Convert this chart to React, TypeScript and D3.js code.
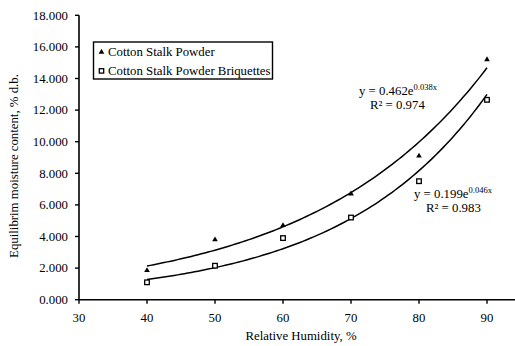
import React from "react";
import * as d3 from "d3";

const humidity = [40, 50, 60, 70, 80, 90];
const powder = [1.85, 3.8, 4.7, 6.7, 9.1, 15.2];
const briquettes = [1.1, 2.15, 3.9, 5.2, 7.5, 12.65];
const xTicks = [30, 40, 50, 60, 70, 80, 90];
const yTicks = [0, 2, 4, 6, 8, 10, 12, 14, 16, 18];
const seriesNames = ["Cotton Stalk Powder", "Cotton Stalk Powder Briquettes"];

const width = 515;
const height = 346;
const font = "'Liberation Serif', 'Times New Roman', serif";

// exponential trendline fitted on ln(y), same as a spreadsheet would
const expFit = (xs: number[], ys: number[]) => {
  const ly = ys.map((v) => Math.log(v));
  const mx = d3.mean(xs) as number;
  const my = d3.mean(ly) as number;
  const b =
    d3.sum(xs, (x, i) => (x - mx) * (ly[i] - my)) /
    d3.sum(xs, (x) => (x - mx) * (x - mx));
  const a = Math.exp(my - b * mx);
  return (x: number) => a * Math.exp(b * x);
};

const App = () => {
  const x = d3.scaleLinear().domain([30, 100]).range([79, 555]);
  const y = d3.scaleLinear().domain([0, 18]).range([299.7, 15.3]);

  const curve = (f: (x: number) => number) => {
    const pts = d3.range(40, 90.01, 0.5).map((h) => [x(h), y(f(h))] as [number, number]);
    return d3.line()(pts) || "";
  };
  const fitA = expFit(humidity, powder);
  const fitB = expFit(humidity, briquettes);
  const tri = d3.symbol().type(d3.symbolTriangle).size(14)() || "";

  return (
    <svg width={width} height={height} style={{ position: "absolute", left: 0, top: 0, background: "#fff" }} fontFamily={font}>
      <rect width={width} height={height} fill="#fff" />
      {/* axes */}
      <line x1={79} x2={79} y1={y(18)} y2={y(0)} stroke="#000" strokeWidth={1.6} />
      <line x1={79} x2={width} y1={y(0)} y2={y(0)} stroke="#000" strokeWidth={1.6} />
      {yTicks.map((t) => (
        <g key={"y" + t}>
          <line x1={75} x2={79} y1={y(t)} y2={y(t)} stroke="#000" strokeWidth={1.4} />
          <text x={68} y={y(t) + 4.3} textAnchor="end" fontSize={12.8} fill="#000">
            {d3.format(".3f")(t)}
          </text>
        </g>
      ))}
      {xTicks.map((t) => (
        <g key={"x" + t}>
          <line x1={x(t)} x2={x(t)} y1={y(0)} y2={y(0) + 4} stroke="#000" strokeWidth={1.4} />
          <text x={x(t)} y={322} textAnchor="middle" fontSize={12.8} fill="#000">
            {t}
          </text>
        </g>
      ))}
      <text x={301} y={340} textAnchor="middle" fontSize={12.8}>
        Relative Humidity, %
      </text>
      <text transform="translate(18,166) rotate(-90)" textAnchor="middle" fontSize={12.8}>
        Equilibrim moisture content, % d.b.
      </text>

      {/* trendlines */}
      <path d={curve(fitA)} fill="none" stroke="#000" strokeWidth={1.5} />
      <path d={curve(fitB)} fill="none" stroke="#000" strokeWidth={1.5} />

      {/* markers */}
      {humidity.map((h, i) => (
        <path key={"t" + i} d={tri} transform={`translate(${x(h)},${y(powder[i])})`} fill="#000" />
      ))}
      {humidity.map((h, i) => (
        <rect key={"s" + i} x={x(h) - 2.3} y={y(briquettes[i]) - 2.3} width={4.6} height={4.6} fill="#fff" stroke="#000" strokeWidth={1.3} />
      ))}

      {/* equations */}
      <text x={359} y={95} fontSize={12.8}>
        y = 0.462e<tspan fontSize={8.5} dy={-5}>0.038x</tspan>
      </text>
      <text x={370} y={109} fontSize={12.8}>
        R² = 0.974
      </text>
      <text x={414} y={198} fontSize={12.8}>
        y = 0.199e<tspan fontSize={8.5} dy={-5}>0.046x</tspan>
      </text>
      <text x={426} y={212} fontSize={12.8}>
        R² = 0.983
      </text>

      {/* legend */}
      <rect x={93.5} y={42} width={179} height={37} fill="#fff" stroke="#000" strokeWidth={1.4} />
      <path d={tri} transform="translate(101.5,52)" fill="#000" />
      <rect x={99.3} y={68.7} width={4.4} height={4.4} fill="#fff" stroke="#000" strokeWidth={1.3} />
      <text x={108} y={56} fontSize={12.8}>{seriesNames[0]}</text>
      <text x={108} y={75} fontSize={12.8}>{seriesNames[1]}</text>
    </svg>
  );
};

export default App;
